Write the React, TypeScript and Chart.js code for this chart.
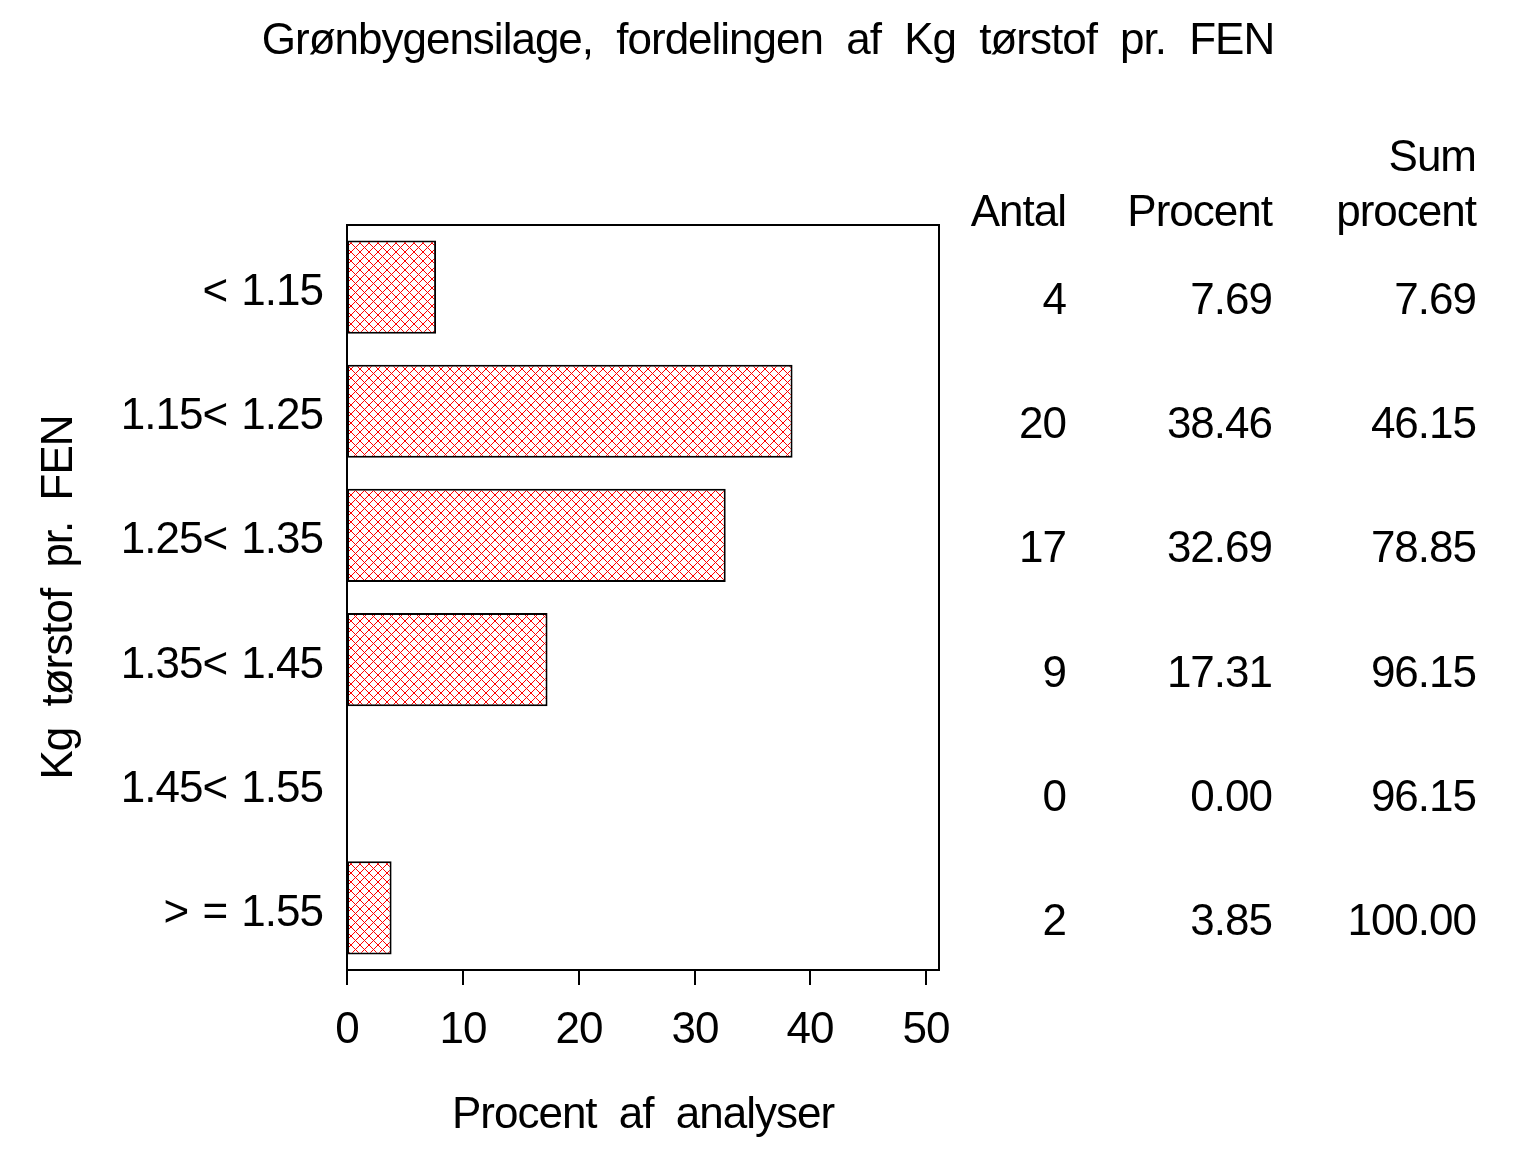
import React, { useEffect, useRef } from "react";
import { Chart, registerables } from "chart.js";

Chart.register(...registerables);

const categories = ["< 1.15", "1.15< 1.25", "1.25< 1.35", "1.35< 1.45", "1.45< 1.55", "> = 1.55"];
const percentValues = [7.69, 38.46, 32.69, 17.31, 0.0, 3.85];
const antalValues = ["4", "20", "17", "9", "0", "2"];
const procentLabels = ["7.69", "38.46", "32.69", "17.31", "0.00", "3.85"];
const sumProcentLabels = ["7.69", "46.15", "78.85", "96.15", "96.15", "100.00"];
const xTicks = [0, 10, 20, 30, 40, 50];
const xMax = 51.1;

const titleText = "Grønbygensilage, fordelingen af Kg tørstof pr. FEN";
const xTitle = "Procent af analyser";
const yTitle = "Kg tørstof pr. FEN";

const FONT = '"Liberation Sans", Arial, Helvetica, sans-serif';

function makePattern(): CanvasPattern | string {
  const c = document.createElement("canvas");
  c.width = 9;
  c.height = 9;
  const p = c.getContext("2d");
  if (!p) return "#ff0000";
  p.fillStyle = "#ffffff";
  p.fillRect(0, 0, 9, 9);
  p.fillStyle = "#ff0000";
  for (let i = 0; i < 9; i++) {
    p.fillRect(i, i, 1, 1);
    p.fillRect(8 - i, i, 1, 1);
  }
  const pat = p.createPattern(c, "repeat");
  return pat || "#ff0000";
}

const textPlugin = {
  id: "sasText",
  afterDraw(chart: any) {
    const ctx = chart.ctx as CanvasRenderingContext2D;
    const area = chart.chartArea;
    const xs = chart.scales.x;
    const ys = chart.scales.y;
    ctx.save();
    const anyCtx = ctx as any;
    anyCtx.letterSpacing = "-1px";
    anyCtx.wordSpacing = "0px";
    ctx.fillStyle = "#000";
    ctx.strokeStyle = "#000";

    // box
    ctx.lineWidth = 2;
    ctx.strokeRect(area.left, area.top, area.right - area.left, area.bottom - area.top);

    // x ticks
    ctx.font = `44px ${FONT}`;
    ctx.textAlign = "center";
    ctx.textBaseline = "alphabetic";
    xTicks.forEach((v) => {
      const px = Math.round(xs.getPixelForValue(v));
      ctx.beginPath();
      ctx.moveTo(px, area.bottom);
      ctx.lineTo(px, area.bottom + 15);
      ctx.stroke();
      ctx.fillText(String(v), px, area.bottom + 73);
    });

    // y tick labels
    ctx.textAlign = "right";
    anyCtx.wordSpacing = "3px";
    categories.forEach((c, i) => {
      const py = ys.getPixelForValue(i);
      ctx.fillText(c, area.left - 24, py + 18);
    });
    anyCtx.wordSpacing = "0px";

    // table
    const cols = [1066, 1272, 1476];
    const colData = [antalValues, procentLabels, sumProcentLabels];
    colData.forEach((arr, ci) => {
      arr.forEach((t, i) => {
        const py = ys.getPixelForValue(i);
        ctx.fillText(t, cols[ci], py + 27);
      });
    });
    ctx.fillText("Antal", cols[0], 226);
    ctx.fillText("Procent", cols[1], 226);
    ctx.fillText("Sum", cols[2], 171);
    ctx.fillText("procent", cols[2], 226);

    // title
    anyCtx.wordSpacing = "12px";
    ctx.textAlign = "center";
    ctx.fillText(titleText, 768, 54);

    // x title
    anyCtx.wordSpacing = "11px";
    ctx.fillText(xTitle, (area.left + area.right) / 2, 1128);

    // y title
    anyCtx.wordSpacing = "10px";
    ctx.save();
    ctx.translate(72, (area.top + area.bottom) / 2);
    ctx.rotate(-Math.PI / 2);
    ctx.fillText(yTitle, 0, 0);
    ctx.restore();

    ctx.restore();
  },
};

export default function App() {
  const ref = useRef<HTMLCanvasElement | null>(null);
  useEffect(() => {
    if (!ref.current) return;
    const pattern = makePattern();
    const chart = new Chart(ref.current, {
      type: "bar",
      data: {
        labels: categories,
        datasets: [
          {
            data: percentValues,
            backgroundColor: pattern as any,
            borderColor: "#000000",
            borderWidth: 2,
            borderSkipped: false,
            categoryPercentage: 0.75,
            barPercentage: 1,
          },
        ],
      },
      options: {
        indexAxis: "y",
        responsive: false,
        animation: false,
        devicePixelRatio: 1,
        layout: { padding: { left: 347, right: 597, top: 225, bottom: 182 } },
        plugins: {
          legend: { display: false },
          title: { display: false },
          tooltip: { enabled: false },
        },
        scales: {
          x: { display: false, min: 0, max: xMax },
          y: { display: false },
        },
      },
      plugins: [textPlugin],
    });
    return () => chart.destroy();
  }, []);
  return (
    <div style={{ position: "fixed", left: 0, top: 0, width: 1536, height: 1152, background: "#fff" }}>
      <canvas ref={ref} width={1536} height={1152} style={{ width: 1536, height: 1152, display: "block" }} />
    </div>
  );
}
